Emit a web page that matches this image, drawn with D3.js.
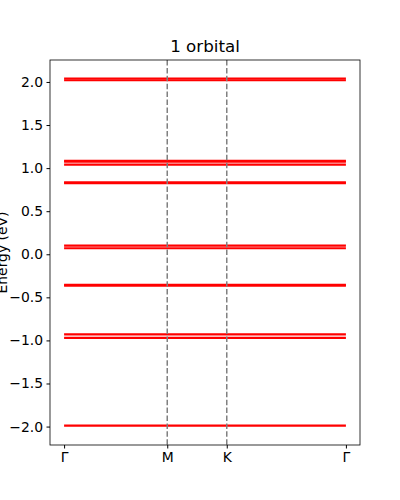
<!DOCTYPE html>
<html><head><meta charset="utf-8">
<script src="https://cdn.jsdelivr.net/npm/d3@7"></script>
<style>body{margin:0;background:#fff}</style>
</head><body>
<svg id="chart" width="400" height="500"></svg>
<script>
// k-path nodes (Γ-M-K-Γ), distances along the path
var kLabels = ["Γ", "M", "K", "Γ"];
var kNodes = [0, 1, 1.577, 2.732];
// flat band energies (eV); close pairs show up as thick lines
var bands = [2.02, 2.04, 1.075, 1.085, 1.04, 0.825, 0.835, 0.10, 0.07,
             -0.355, -0.365, -0.93, -0.97, -1.99];
var yTicks = [-2.0, -1.5, -1.0, -0.5, 0.0, 0.5, 1.0, 1.5, 2.0];

var svg = d3.select("#chart");
var pLeft = 50, pRight = 360, pTop = 60, pBottom = 445;
var x = d3.scaleLinear().domain([-0.1366, 2.8686]).range([pLeft, pRight]);
var y = d3.scaleLinear().domain([-2.214, 2.255]).range([pBottom, pTop]);

svg.append("g").selectAll("line").data(bands).join("line")
    .attr("x1", x(kNodes[0])).attr("x2", x(kNodes[3]))
    .attr("y1", d => y(d)).attr("y2", d => y(d))
    .attr("stroke", "#f00").attr("stroke-width", 2.2);

svg.append("g").selectAll("line").data(kNodes.slice(1, 3)).join("line")
    .attr("x1", d => x(d)).attr("x2", d => x(d))
    .attr("y1", pTop).attr("y2", pBottom)
    .attr("stroke", "#808080").attr("stroke-width", 1.5)
    .attr("stroke-dasharray", "5.5,2.4");

svg.append("rect").attr("x", pLeft).attr("y", pTop)
    .attr("width", pRight - pLeft).attr("height", pBottom - pTop)
    .attr("fill", "none").attr("stroke", "#000").attr("stroke-width", 0.8);

var yAxis = d3.axisLeft(y).tickValues(yTicks).tickSize(3.5).tickPadding(3.5)
    .tickFormat(d => d3.format(".1f")(d).replace("-", "\u2212"));
svg.append("g").attr("transform", "translate(" + pLeft + ",0)").call(yAxis)
    .call(g => g.select(".domain").remove())
    .call(g => g.selectAll("text").attr("font-size", 13.9).attr("font-family", "DejaVu Sans").attr("fill", "#000"));

var xAxis = d3.axisBottom(x).tickValues(kNodes).tickSize(3.5).tickPadding(3.5)
    .tickFormat((d, i) => kLabels[i]);
svg.append("g").attr("transform", "translate(0," + pBottom + ")").call(xAxis)
    .call(g => g.select(".domain").remove())
    .call(g => g.selectAll("text").attr("font-size", 13.9).attr("font-family", "DejaVu Sans").attr("fill", "#000"));

svg.append("text").attr("x", (pLeft + pRight) / 2).attr("y", 52)
    .attr("text-anchor", "middle").attr("font-size", 16.7)
    .attr("font-family", "DejaVu Sans").text("1 orbital");

svg.append("text").attr("transform", "translate(7," + (pTop + pBottom) / 2 + ") rotate(-90)")
    .attr("text-anchor", "middle").attr("font-size", 13.9)
    .attr("font-family", "DejaVu Sans").text("Energy (eV)");
</script>
</body></html>
